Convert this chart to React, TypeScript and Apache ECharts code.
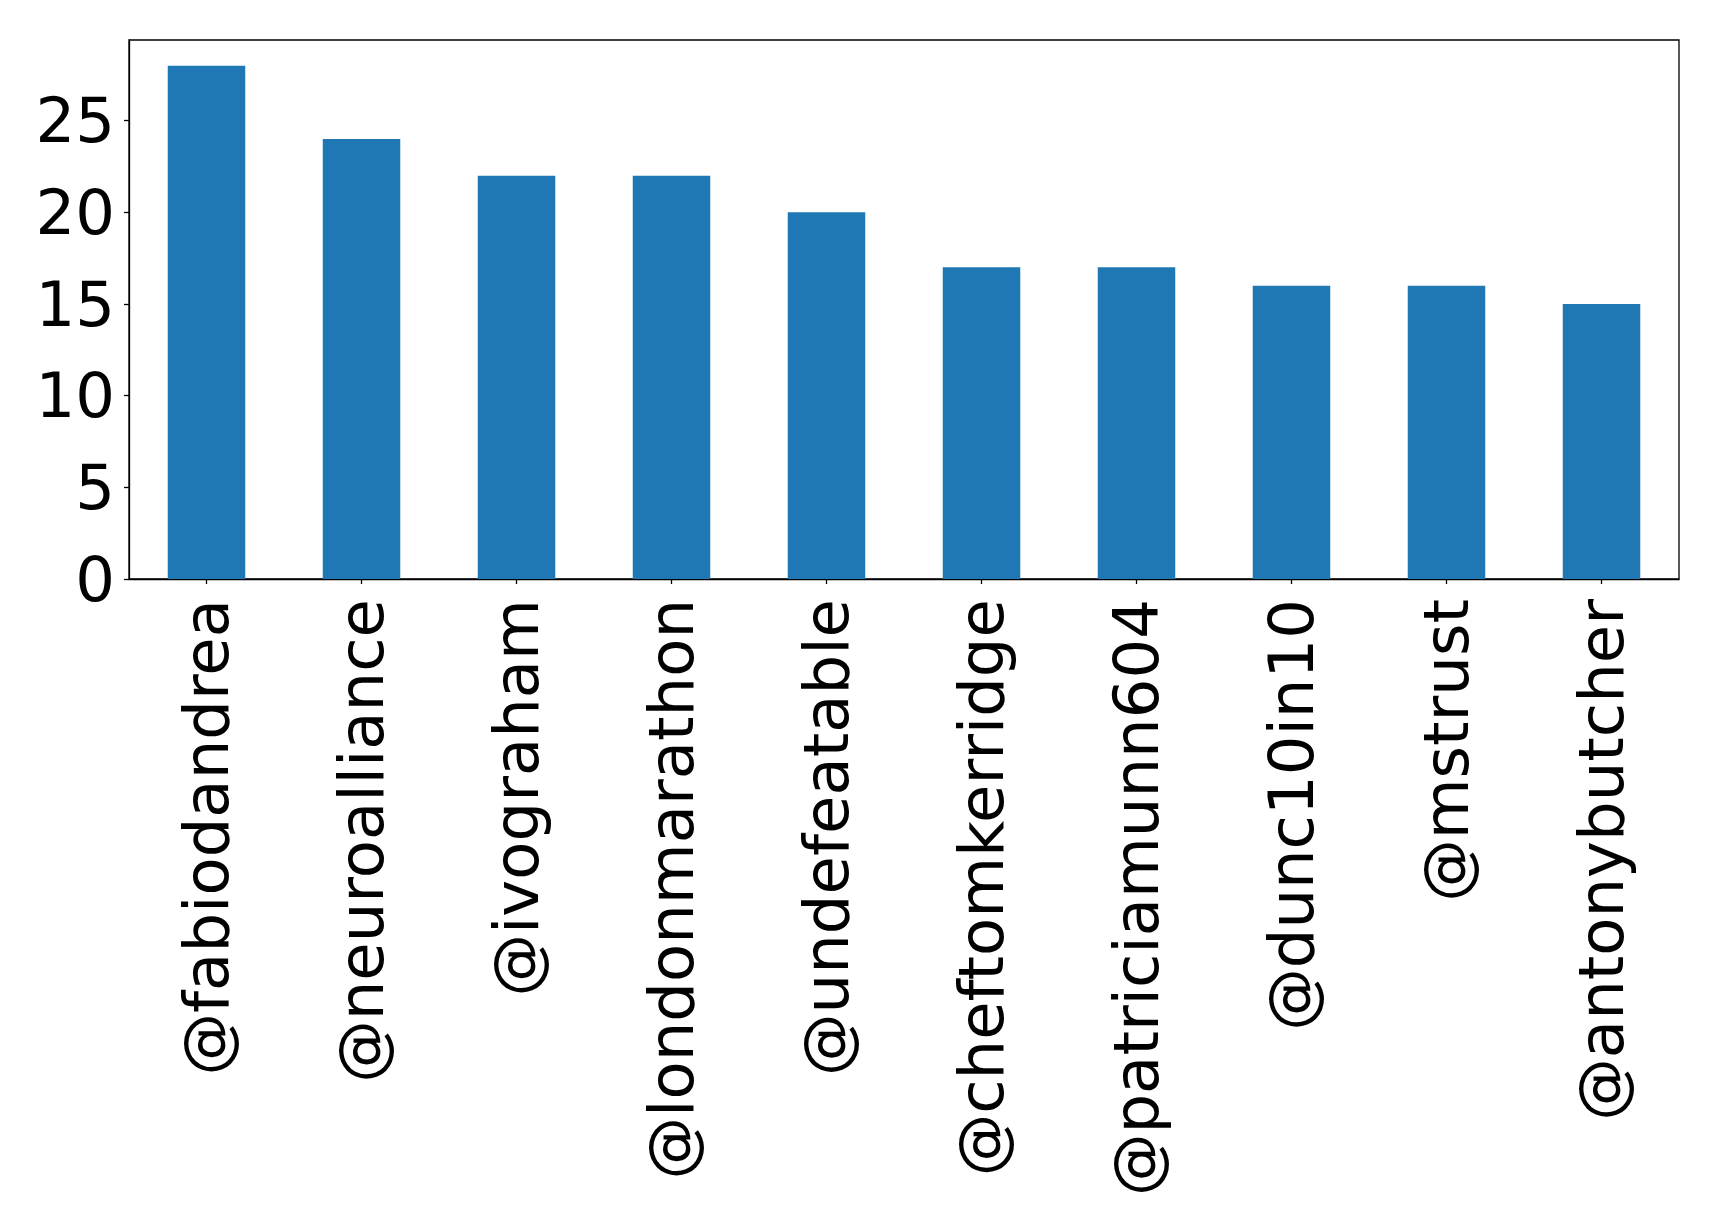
import React, { useEffect, useRef } from "react";
import * as echarts from "echarts";

const categories = [
  "@fabiodandrea",
  "@neuroalliance",
  "@ivograham",
  "@londonmarathon",
  "@undefeatable",
  "@cheftomkerridge",
  "@patriciamunn604",
  "@dunc10in10",
  "@mstrust",
  "@antonybutcher",
];
const values = [28, 24, 22, 22, 20, 17, 17, 16, 16, 15];
const yTicks = [0, 5, 10, 15, 20, 25];

export default function App() {
  const ref = useRef<HTMLDivElement>(null);
  useEffect(() => {
    if (!ref.current) return;
    const chart = echarts.init(ref.current, undefined, { renderer: "svg" });
    const font = "DejaVu Sans";
    chart.setOption({
      animation: false,
      backgroundColor: "#ffffff",
      grid: {
        left: 129,
        top: 40,
        width: 1550,
        height: 539,
        show: true,
        borderColor: "#000000",
        borderWidth: 1.3,
        backgroundColor: "transparent",
      },
      xAxis: {
        type: "category",
        data: categories,
        boundaryGap: true,
        axisLine: { show: true, lineStyle: { color: "#000000", width: 1.3 } },
        axisTick: { show: true, alignWithLabel: true, length: 5, lineStyle: { color: "#000000", width: 1.3 } },
        axisLabel: {
          rotate: 90,
          interval: 0,
          margin: 20,
          fontSize: 62.5,
          fontFamily: font,
          color: "#000000",
        },
        splitLine: { show: false },
      },
      yAxis: {
        type: "value",
        min: 0,
        max: 29.4,
        interval: 5,
        axisLine: { show: true, lineStyle: { color: "#000000", width: 1.3 } },
        axisTick: {
          show: true,
          length: 5,
          customValues: yTicks,
          lineStyle: { color: "#000000", width: 1.3 },
        },
        axisLabel: {
          margin: 14,
          fontSize: 62.5,
          fontFamily: font,
          color: "#000000",
          customValues: yTicks,
        },
        splitLine: { show: false },
      },
      series: [
        {
          type: "bar",
          data: values,
          barWidth: "50%",
          itemStyle: { color: "#1f77b4" },
        },
      ],
    });
    return () => chart.dispose();
  }, []);
  return (
    <div
      ref={ref}
      style={{ position: "absolute", left: 0, top: 0, width: 1719, height: 1225, background: "#fff" }}
    />
  );
}
